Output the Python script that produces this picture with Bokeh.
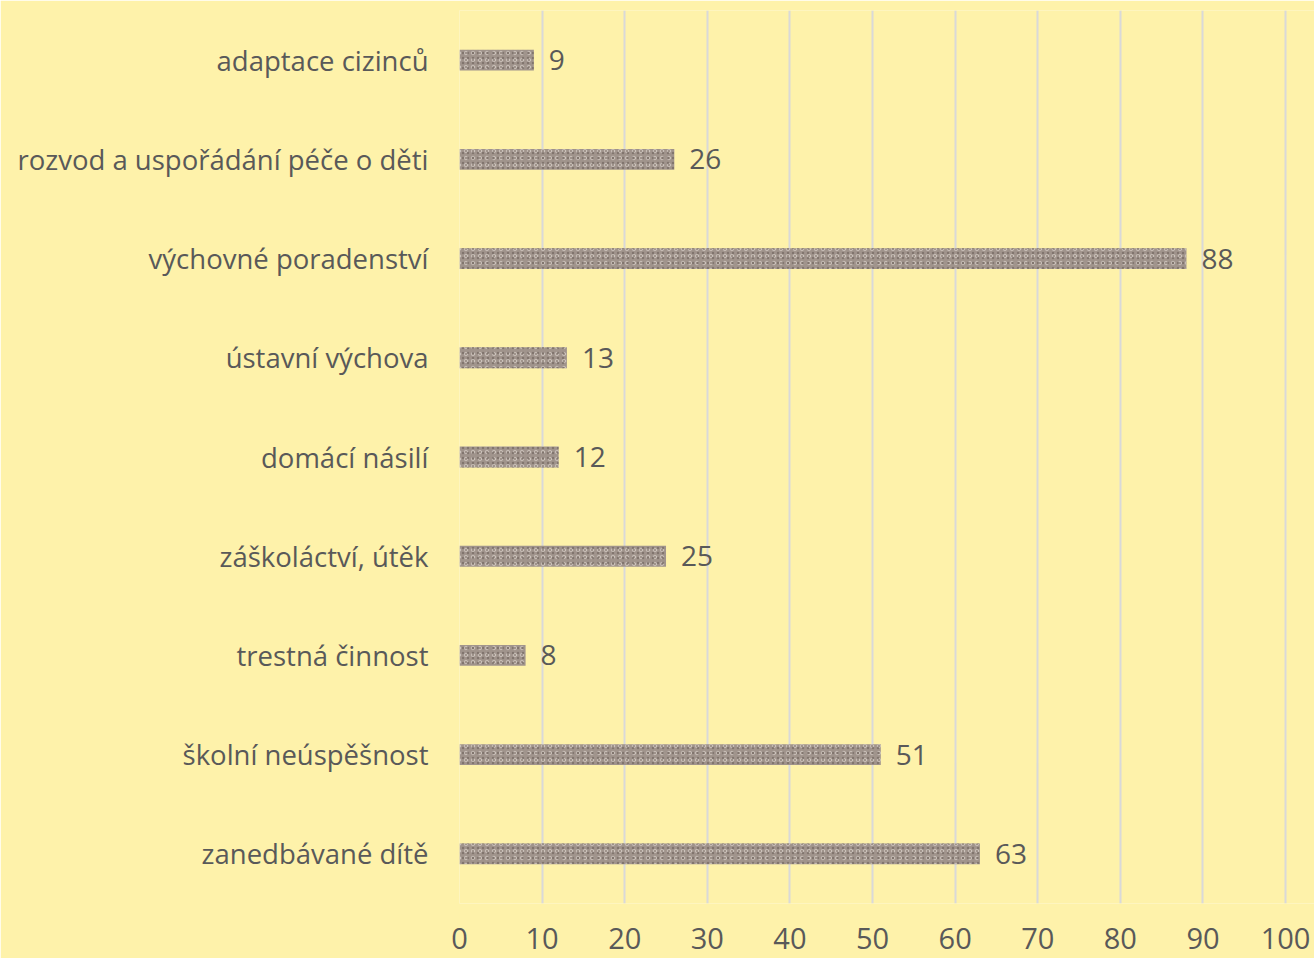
from bokeh.plotting import figure
from bokeh.models import Range1d, FactorRange, ColumnDataSource, FixedTicker
from bokeh.core.properties import value
from bokeh.embed import file_html
from bokeh.resources import INLINE

categories = [
    "zanedbávané dítě",
    "školní neúspěšnost",
    "trestná činnost",
    "záškoláctví, útěk",
    "domácí násilí",
    "ústavní výchova",
    "výchovné poradenství",
    "rozvod a uspořádání péče o děti",
    "adaptace cizinců",
]
counts = [63, 51, 8, 25, 12, 13, 88, 26, 9]
labels = [str(v) for v in counts]
x_ticks = [0, 10, 20, 30, 40, 50, 60, 70, 80, 90, 100]

BG = "#FEF2AA"
TXT = "#595959"
FONT = "Open Sans"

src = ColumnDataSource(dict(cat=categories, val=counts, lab=labels))

p = figure(
    width=1314, height=958,
    y_range=FactorRange(*categories, range_padding=0),
    x_range=Range1d(0, 103.5),
    output_backend="svg", toolbar_location=None,
    min_border_left=459, min_border_right=0, min_border_top=10, min_border_bottom=55,
)
p.background_fill_color = BG
p.border_fill_color = BG
p.outline_line_color = None

p.hbar(y="cat", right="val", left=0, height=0.21, source=src,
       fill_color="#A0948C", line_color=None,
       hatch_pattern="ring", hatch_color="#d6cec7", hatch_scale=7, hatch_alpha=0.7)
p.hbar(y="cat", right="val", left=0, height=0.21, source=src,
       fill_alpha=0, line_color=None,
       hatch_pattern="dot", hatch_color="#6a5f58", hatch_scale=5, hatch_alpha=0.6)

p.text(x="val", y="cat", text="lab", source=src, x_offset=15,
       text_baseline="middle", text_align="left",
       text_font=value(FONT), text_font_size="28px", text_color=TXT)

p.xgrid.ticker = FixedTicker(ticks=x_ticks)
p.xgrid.grid_line_color = "#D9D9D9"
p.xgrid.grid_line_width = 2
p.ygrid.grid_line_color = None

p.xaxis.ticker = FixedTicker(ticks=x_ticks)
p.xaxis.axis_line_color = None
p.xaxis.major_tick_line_color = None
p.xaxis.minor_tick_line_color = None
p.xaxis.major_label_standoff = 18
p.xaxis.major_label_text_font = FONT
p.xaxis.major_label_text_font_size = "29px"
p.xaxis.major_label_text_color = TXT

p.yaxis.axis_line_color = None
p.yaxis.major_tick_line_color = None
p.yaxis.minor_tick_line_color = None
p.yaxis.major_label_standoff = 25
p.yaxis.major_label_text_font = FONT
p.yaxis.major_label_text_font_size = "27.5px"
p.yaxis.major_label_text_color = TXT

open("out.html", "w").write(file_html(p, INLINE))
